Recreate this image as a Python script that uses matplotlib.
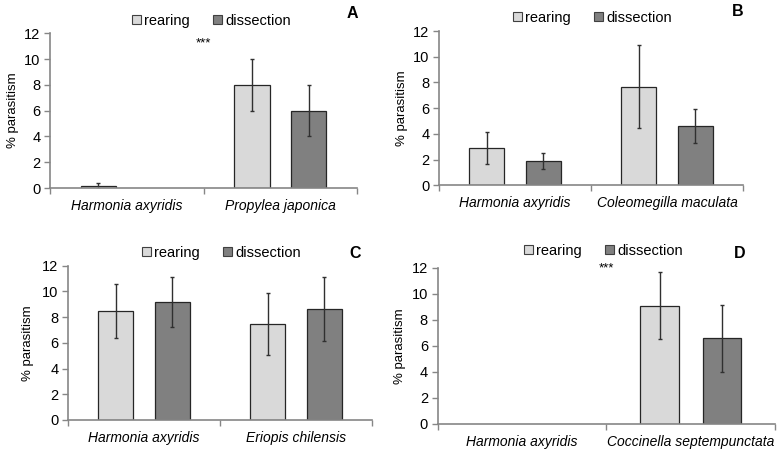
import matplotlib
matplotlib.use("Agg")
import matplotlib.pyplot as plt
from matplotlib.patches import Patch
import numpy as np

plt.rcParams["font.family"] = ["Liberation Sans", "DejaVu Sans"]

# panel A
species_a = ["Harmonia axyridis", "Propylea japonica"]
rear_a = [0.15, 8.0]
rear_err_a = [0.2, 2.0]
diss_a = [0.0, 6.0]
diss_err_a = [0.0, 2.0]

# panel B
species_b = ["Harmonia axyridis", "Coleomegilla maculata"]
rear_b = [2.88, 7.67]
rear_err_b = [1.26, 3.25]
diss_b = [1.89, 4.61]
diss_err_b = [0.66, 1.35]

# panel C
species_c = ["Harmonia axyridis", "Eriopis chilensis"]
rear_c = [8.50, 7.44]
rear_err_c = [2.1, 2.41]
diss_c = [9.18, 8.63]
diss_err_c = [1.93, 2.46]

# panel D
species_d = ["Harmonia axyridis", "Coccinella septempunctata"]
rear_d = [0.0, 9.10]
rear_err_d = [0.0, 2.56]
diss_d = [0.0, 6.58]
diss_err_d = [0.0, 2.6]

RCOL, DCOL = "#d9d9d9", "#808080"
EDGE = "#262626"
AXCOL = "#868686"
W, OFF = 0.23, 0.185

rects = {
    "A": [0.0643, 0.5822, 0.3946, 0.3438],
    "B": [0.5643, 0.5882, 0.3907, 0.3429],
    "C": [0.0874, 0.0667, 0.3907, 0.3429],
    "D": [0.5626, 0.0578, 0.4336, 0.3467],
}
# legend anchor (fig px x of first square, y), letter pos, ylabel x, stars
legend_pos = {"A": (136, 21), "B": (517, 18), "C": (146, 253), "D": (528, 251)}
letter_pos = {"A": (352, 13), "B": (738, 12), "C": (355, 253), "D": (740, 254)}
ylabel_x = {"A": 13, "B": 402, "C": 28, "D": 400}
stars = {"A": 11.2, "D": 12.0}

panels = {
    "A": (species_a, rear_a, rear_err_a, diss_a, diss_err_a),
    "B": (species_b, rear_b, rear_err_b, diss_b, diss_err_b),
    "C": (species_c, rear_c, rear_err_c, diss_c, diss_err_c),
    "D": (species_d, rear_d, rear_err_d, diss_d, diss_err_d),
}

fig = plt.figure(figsize=(7.78, 4.5), dpi=100)
FW, FH = 778, 450

for key, (species, rear, rerr, diss, derr) in panels.items():
    ax = fig.add_axes(rects[key])
    x = np.arange(len(species))
    errkw = dict(ecolor="#303030", elinewidth=1.0, capsize=1.5, capthick=1.0)
    rear = np.array(rear)
    diss = np.array(diss)
    rerr = np.array(rerr)
    derr = np.array(derr)
    rm = rear > 0
    dm = diss > 0
    ax.bar(x[rm] - OFF, rear[rm], W, color=RCOL, edgecolor=EDGE, linewidth=0.9,
           yerr=rerr[rm], error_kw=errkw, zorder=2)
    ax.bar(x[dm] + OFF, diss[dm], W, color=DCOL, edgecolor=EDGE, linewidth=0.9,
           yerr=derr[dm], error_kw=errkw, zorder=2)
    ax.set_xlim(-0.5, len(species) - 0.5)
    ax.set_ylim(0, 12)
    ax.set_yticks(range(0, 13, 2))
    ax.set_xticks([-0.5, 0.5, 1.5])
    ax.set_xticklabels([])
    ax.set_xticks(x, minor=True)
    ax.set_xticklabels(species, minor=True, style="italic", fontsize=10)
    ax.tick_params(axis="x", which="minor", length=0, pad=8)
    ax.tick_params(axis="x", which="major", length=4, color=AXCOL, width=1)
    ax.tick_params(axis="y", length=4, color=AXCOL, width=1, labelsize=10.5, pad=3)
    for s in ("top", "right"):
        ax.spines[s].set_visible(False)
    for s in ("left", "bottom"):
        ax.spines[s].set_color(AXCOL)
        ax.spines[s].set_linewidth(1.2)

    # y label placed in figure coords
    r = rects[key]
    fig.text(ylabel_x[key] / FW, r[1] + r[3] / 2, "% parasitism", rotation=90,
             ha="center", va="center", fontsize=9.5)

    if key in stars:
        ax.text(0.5, stars[key], "***", ha="center", va="center", fontsize=9.5)

    lx, ly = legend_pos[key]
    handles = [Patch(facecolor=RCOL, edgecolor="#404040", linewidth=0.8),
               Patch(facecolor=DCOL, edgecolor="#404040", linewidth=0.8)]
    fig.legend(handles, ["rearing", "dissection"], loc="center left",
               bbox_to_anchor=(lx / FW - 0.012, 1 - ly / FH), ncol=2,
               frameon=False, fontsize=10.5, handlelength=0.6, handleheight=0.6,
               handletextpad=0.2, columnspacing=1.6, borderaxespad=0)

    tx, ty = letter_pos[key]
    fig.text(tx / FW, 1 - ty / FH, key, ha="center", va="center",
             fontsize=11.5, fontweight="bold")

fig.savefig("out.png", dpi=100)
